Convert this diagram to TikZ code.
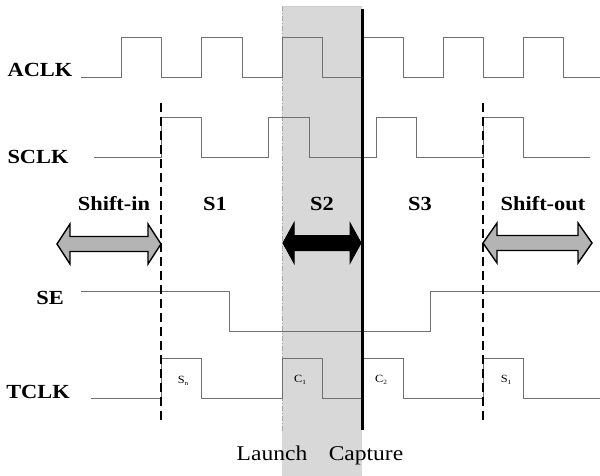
\documentclass[tikz,border=0pt]{standalone}
\usepackage{fontspec}
\setmainfont{Liberation Serif}[FakeStretch=1.12]
\definecolor{sigcol}{RGB}{112,112,112}
\definecolor{shadecol}{RGB}{216,216,216}
\definecolor{arrgray}{RGB}{180,180,180}
\newcommand{\dblarr}[5]{% style, x1, x2, y, head length
  \draw[#1] (#2,#4) -- (#2+#5,#4-20) -- (#2+#5,#4-7.5) -- (#3-#5,#4-7.5) -- (#3-#5,#4-20)
    -- (#3,#4) -- (#3-#5,#4+20) -- (#3-#5,#4+7.5) -- (#2+#5,#4+7.5) -- (#2+#5,#4+20) -- cycle;}
\newcommand{\pulselbl}[2]{{\fontsize{11}{11}\selectfont #1\raisebox{-1.5pt}{\fontsize{6.5}{6.5}\selectfont #2}}}
\begin{document}
\begin{tikzpicture}[x=1pt,y=-1pt,
  sig/.style={draw=sigcol,line width=0.9pt},
  sname/.style={font=\fontsize{20}{20}\selectfont\bfseries},
  phase/.style={font=\fontsize{20}{20}\selectfont\bfseries},
  evt/.style={font=\fontsize{21}{21}\selectfont,anchor=base},
  boundary/.style={line width=2pt,dash pattern=on 9pt off 5pt},
  grayarr/.style={fill=arrgray,draw=black,line width=1.4pt,line join=miter},
  blackarr/.style={fill=black,draw=black,line width=1pt}]
\useasboundingbox (0,0) rectangle (600,476);
% shaded window
\fill[shadecol] (282,6) rectangle (362,476);
\draw[gray!70,line width=0.8pt,dash pattern=on 5pt off 2pt on 1pt off 2pt] (282,6) -- (282,432);
\draw[gray!40,line width=0.6pt] (282,6) -- (362,6);
% signal names
\node[sname] (aclk) at (40,70) {ACLK};
\node[sname] (sclk) at (38,157) {SCLK};
\node[sname] (se) at (50,298) {SE};
\node[sname] (tclk) at (38,392) {TCLK};
% waveforms
\draw[sig] (81,77) -| (121,37) -| (161,77) -| (201,37) -| (242,77) -| (282,37) -| (322,77) -| (362,37)
  -| (403,77) -| (443,37) -| (483,77) -| (523,37) -| (563,77) -- (600,77);
\draw[sig] (94,157) -| (161,117) -| (201,157) -| (268,117) -| (309,157) -| (376,117) -| (416,157)
  -| (483,117) -| (523,157) -- (590,157);
\draw[sig] (81,291) -| (229,331) -| (430,291) -- (600,291);
\draw[sig] (91,398) -| (161,358) -| (201,398) -| (282,358) -| (322,398) -| (362,358) -| (403,398)
  -| (483,358) -| (523,398) -- (600,398);
% boundaries
\coordinate (b1t) at (161,103); \coordinate (b1b) at (161,422);
\coordinate (b2t) at (483,103); \coordinate (b2b) at (483,422);
\coordinate (capt) at (362,9); \coordinate (capb) at (362,430);
\draw[boundary] (b1t) -- (b1b);
\draw[boundary] (b2t) -- (b2b);
\draw[line width=3pt] (capt) -- (capb);
% phase labels
\node[phase] (shin) at (114,204) {Shift-in};
\node[phase] (s1) at (215,204) {S1};
\node[phase] (s2) at (322,204) {S2};
\node[phase] (s3) at (420,204) {S3};
\node[phase] (shout) at (543,204) {Shift-out};
% arrows
\dblarr{grayarr}{57}{161}{244}{13}
\dblarr{grayarr}{483}{592}{243}{14}
\dblarr{blackarr}{283}{361}{243}{11}
% pulse labels
\node (sn) at (183,381) {\pulselbl{S}{n}};
\node (c1) at (300,380) {\pulselbl{C}{1}};
\node (c2) at (381,380) {\pulselbl{C}{2}};
\node (s1l) at (506,380) {\pulselbl{S}{1}};
% launch / capture
\node[evt] (launch) at (272,460) {Launch};
\node[evt] (capture) at (366,460) {Capture};
\end{tikzpicture}
\end{document}
